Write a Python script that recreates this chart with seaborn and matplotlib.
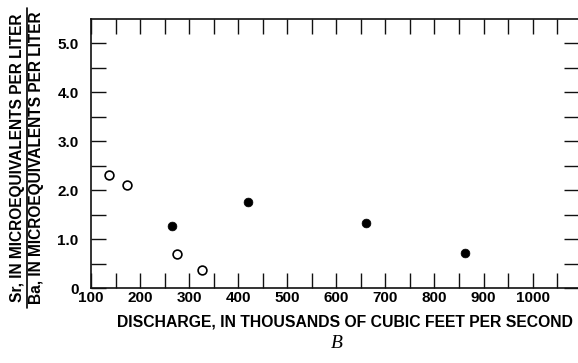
import matplotlib
matplotlib.use("Agg")
import matplotlib.pyplot as plt
import seaborn as sns
import pandas as pd
from matplotlib.lines import Line2D

# discharge (thousands cfs) and Sr/Ba ratio
open_discharge = [137, 174, 276, 326]
open_ratio = [2.31, 2.11, 0.69, 0.36]
filled_discharge = [265, 419, 661, 863]
filled_ratio = [1.26, 1.76, 1.33, 0.71]

x_labels = [100, 200, 300, 400, 500, 600, 700, 800, 900, 1000]
y_labels = ["0", "1.0", "2.0", "3.0", "4.0", "5.0"]

open_df = pd.DataFrame({"Discharge": open_discharge, "Ratio": open_ratio})
filled_df = pd.DataFrame({"Discharge": filled_discharge, "Ratio": filled_ratio})

sns.set_style("ticks")
plt.rcParams["font.family"] = ["Liberation Sans", "DejaVu Sans"]
plt.rcParams["text.color"] = "black"
plt.rcParams["xtick.color"] = "black"
plt.rcParams["ytick.color"] = "black"

fig = plt.figure(figsize=(5.78, 3.63), dpi=100)
ax = fig.add_axes([91 / 578, 75 / 363, 488 / 578, 269 / 363])

sns.scatterplot(data=open_df, x="Discharge", y="Ratio", ax=ax, marker="o",
                s=40, facecolor="white", edgecolor="black", linewidth=1.2, zorder=3)
sns.scatterplot(data=filled_df, x="Discharge", y="Ratio", ax=ax, marker="o",
                s=40, color="black", edgecolor="black", linewidth=0.5, zorder=3)

ax.set_xlim(100, 1094.5)
ax.set_ylim(0, 5.5)

ax.set_xticks(x_labels)
ax.set_xticklabels([str(v) for v in x_labels], fontsize=11, fontweight="bold")
ax.set_xticks(list(range(150, 1100, 100)), minor=True)
ax.set_yticks([0, 1, 2, 3, 4, 5])
ax.set_yticklabels(y_labels, fontsize=11, fontweight="bold")
ax.set_yticks([0.5, 1.5, 2.5, 3.5, 4.5], minor=True)

ax.tick_params(which="both", direction="in", length=11, width=1.0, color="#111111",
               labelcolor="black", top=True, right=True)
ax.tick_params(axis="x", which="both", pad=2)
ax.tick_params(axis="y", which="both", pad=9)
for spine in ax.spines.values():
    spine.set_visible(True)
    spine.set_linewidth(1.2)
    spine.set_color("#111111")
ax.set_xlabel("")
ax.set_ylabel("")

fig.text(345 / 578, 1 - 322 / 363, "DISCHARGE, IN THOUSANDS OF CUBIC FEET PER SECOND",
         ha="center", va="center", fontsize=11.3, fontweight="bold")
fig.text(337 / 578, 1 - 344 / 363, "B", ha="center", va="center", fontsize=14,
         style="italic", family="Liberation Serif")

# stacked y label (fraction)
fig.text(17.5 / 578, 1 - 158 / 363, "Sr, IN MICROEQUIVALENTS PER LITER", rotation=90,
         ha="center", va="center", fontsize=11.2, fontweight="bold")
fig.text(37 / 578, 1 - 158 / 363, "Ba, IN MICROEQUIVALENTS PER LITER", rotation=90,
         ha="center", va="center", fontsize=11.2, fontweight="bold")
fig.add_artist(Line2D([26.5 / 578, 26.5 / 578], [1 - 8 / 363, 1 - 308 / 363],
                      transform=fig.transFigure, color="black", linewidth=1.2))

fig.savefig("out.png", dpi=100)
plt.close(fig)
